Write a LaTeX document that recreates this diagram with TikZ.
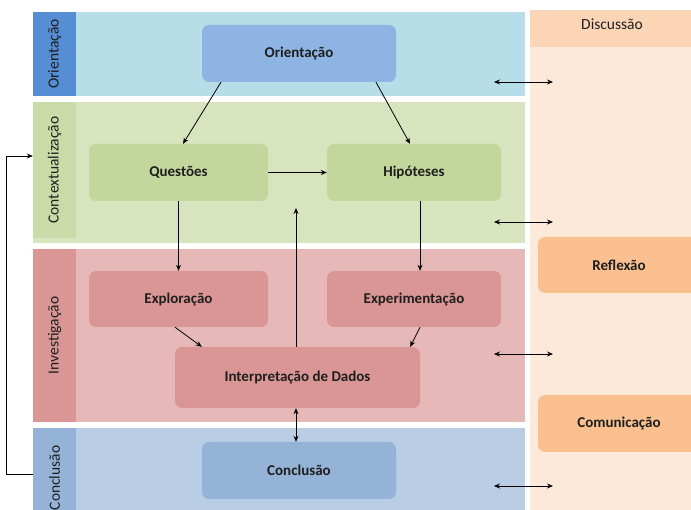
\documentclass[tikz,border=0pt]{standalone}
\usepackage{fontspec}
\setmainfont{Carlito}
\usetikzlibrary{arrows.meta}
\definecolor{orilight}{HTML}{B7DDE8}
\definecolor{oristrip}{HTML}{558ED5}
\definecolor{oribox}{HTML}{8EB4E3}
\definecolor{ctxlight}{HTML}{D7E4BD}
\definecolor{ctxstrip}{HTML}{CADBA8}
\definecolor{ctxbox}{HTML}{C3D69B}
\definecolor{invlight}{HTML}{E6B9B8}
\definecolor{invbox}{HTML}{D99694}
\definecolor{conlight}{HTML}{B9CDE5}
\definecolor{conbox}{HTML}{95B3D7}
\definecolor{dislight}{HTML}{FDE9D9}
\definecolor{dishead}{HTML}{FBD5B5}
\definecolor{disbox}{HTML}{FAC090}
\definecolor{txt}{HTML}{1F1F1F}

\begin{document}
\begin{tikzpicture}[x=1pt,y=-1pt,>={Stealth[length=6pt,width=5pt]},
    stage/.style={rounded corners=7pt,minimum height=57pt,text=txt,font=\fontsize{15}{17}\selectfont\bfseries,inner sep=0pt},
    strip/.style={minimum width=43pt,inner sep=0pt,text=txt,font=\fontsize{15.5}{17}\selectfont},
    link/.style={->,line width=0.8pt},
    twoway/.style={<->,line width=0.8pt}]
    \useasboundingbox (0,0) rectangle (691,510);
    \clip (0,0) rectangle (691,510);
    \fill[orilight] (33,12) rectangle (525,96);
    \fill[ctxlight] (33,102) rectangle (525,243);
    \fill[invlight] (33,249) rectangle (525,422);
    \fill[conlight] (33,428) rectangle (525,530);
    \fill[dislight] (530,47) rectangle (691,530);
    \fill[dishead] (530,10) rectangle (691,47);
    \node[strip,fill=oristrip,minimum height=84pt] (lblori) at (54.5,54) {\rotatebox{90}{Orientação}};
    \node[strip,fill=ctxstrip,minimum height=136pt] (lblctx) at (54.5,170) {\rotatebox{90}{Contextualização}};
    \node[strip,fill=invbox,minimum height=173pt] (lblinv) at (54.5,335.5) {\rotatebox{90}{Investigação}};
    \node[strip,fill=conbox,minimum height=100pt] (lblcon) at (54.5,478) {\rotatebox{90}{Conclusão}};
    \node[text=txt,font=\fontsize{15.5}{17}\selectfont] (discussao) at (612,24) {Discussão};
    \node[stage,fill=oribox,minimum width=194pt] (orientacao) at (299,53.5) {Orientação};
    \node[stage,fill=ctxbox,minimum width=179pt] (questoes) at (178.5,172.5) {Questões};
    \node[stage,fill=ctxbox,minimum width=174pt] (hipoteses) at (414,172.5) {Hipóteses};
    \node[stage,fill=invbox,minimum width=179pt,minimum height=56pt] (exploracao) at (178.5,299) {Exploração};
    \node[stage,fill=invbox,minimum width=174pt,minimum height=56pt] (experimentacao) at (414,299) {Experimentação};
    \node[stage,fill=invbox,minimum width=245pt,minimum height=61pt] (interpretacao) at (297.5,377.5) {Interpretação de Dados};
    \node[stage,fill=conbox,minimum width=194pt] (conclusao) at (299,470.5) {Conclusão};
    \node[stage,fill=disbox,minimum width=162pt,minimum height=56pt] (reflexao) at (619,265) {Reflexão};
    \node[stage,fill=disbox,minimum width=162pt] (comunicacao) at (619,423.5) {Comunicação};
    \coordinate (retorno) at (296,208);
    \draw[link] ([xshift=-78pt]orientacao.south) -- ([xshift=4.5pt]questoes.north);
    \draw[link] ([xshift=77pt]orientacao.south) -- ([xshift=-4pt]hipoteses.north);
    \draw[link] (questoes) -- (hipoteses);
    \draw[link] (questoes) -- (exploracao);
    \draw[link] ([xshift=6pt]hipoteses.south) -- ([xshift=6pt]experimentacao.north);
    \draw[link] ([xshift=-3.5pt]exploracao.south) -- ([xshift=27pt]interpretacao.north west);
    \draw[link] ([xshift=6pt]experimentacao.south) -- ([xshift=-10pt]interpretacao.north east);
    \draw[link] ([xshift=-1.5pt]interpretacao.north) -- (retorno);
    \draw[twoway] ([xshift=-1.5pt]interpretacao.south) -- ([xshift=-3pt]conclusao.north);
    \draw[link] ([yshift=4pt]lblcon.west) -- ++(-26,0) |- ([yshift=14pt]lblctx.west);
    \foreach \y [count=\i] in {82,222,354,486}{
        \coordinate (esq\i) at (494,\y);
        \coordinate (dir\i) at (553,\y);
        \draw[twoway] (esq\i) -- (dir\i);
    }
\end{tikzpicture}
\end{document}
